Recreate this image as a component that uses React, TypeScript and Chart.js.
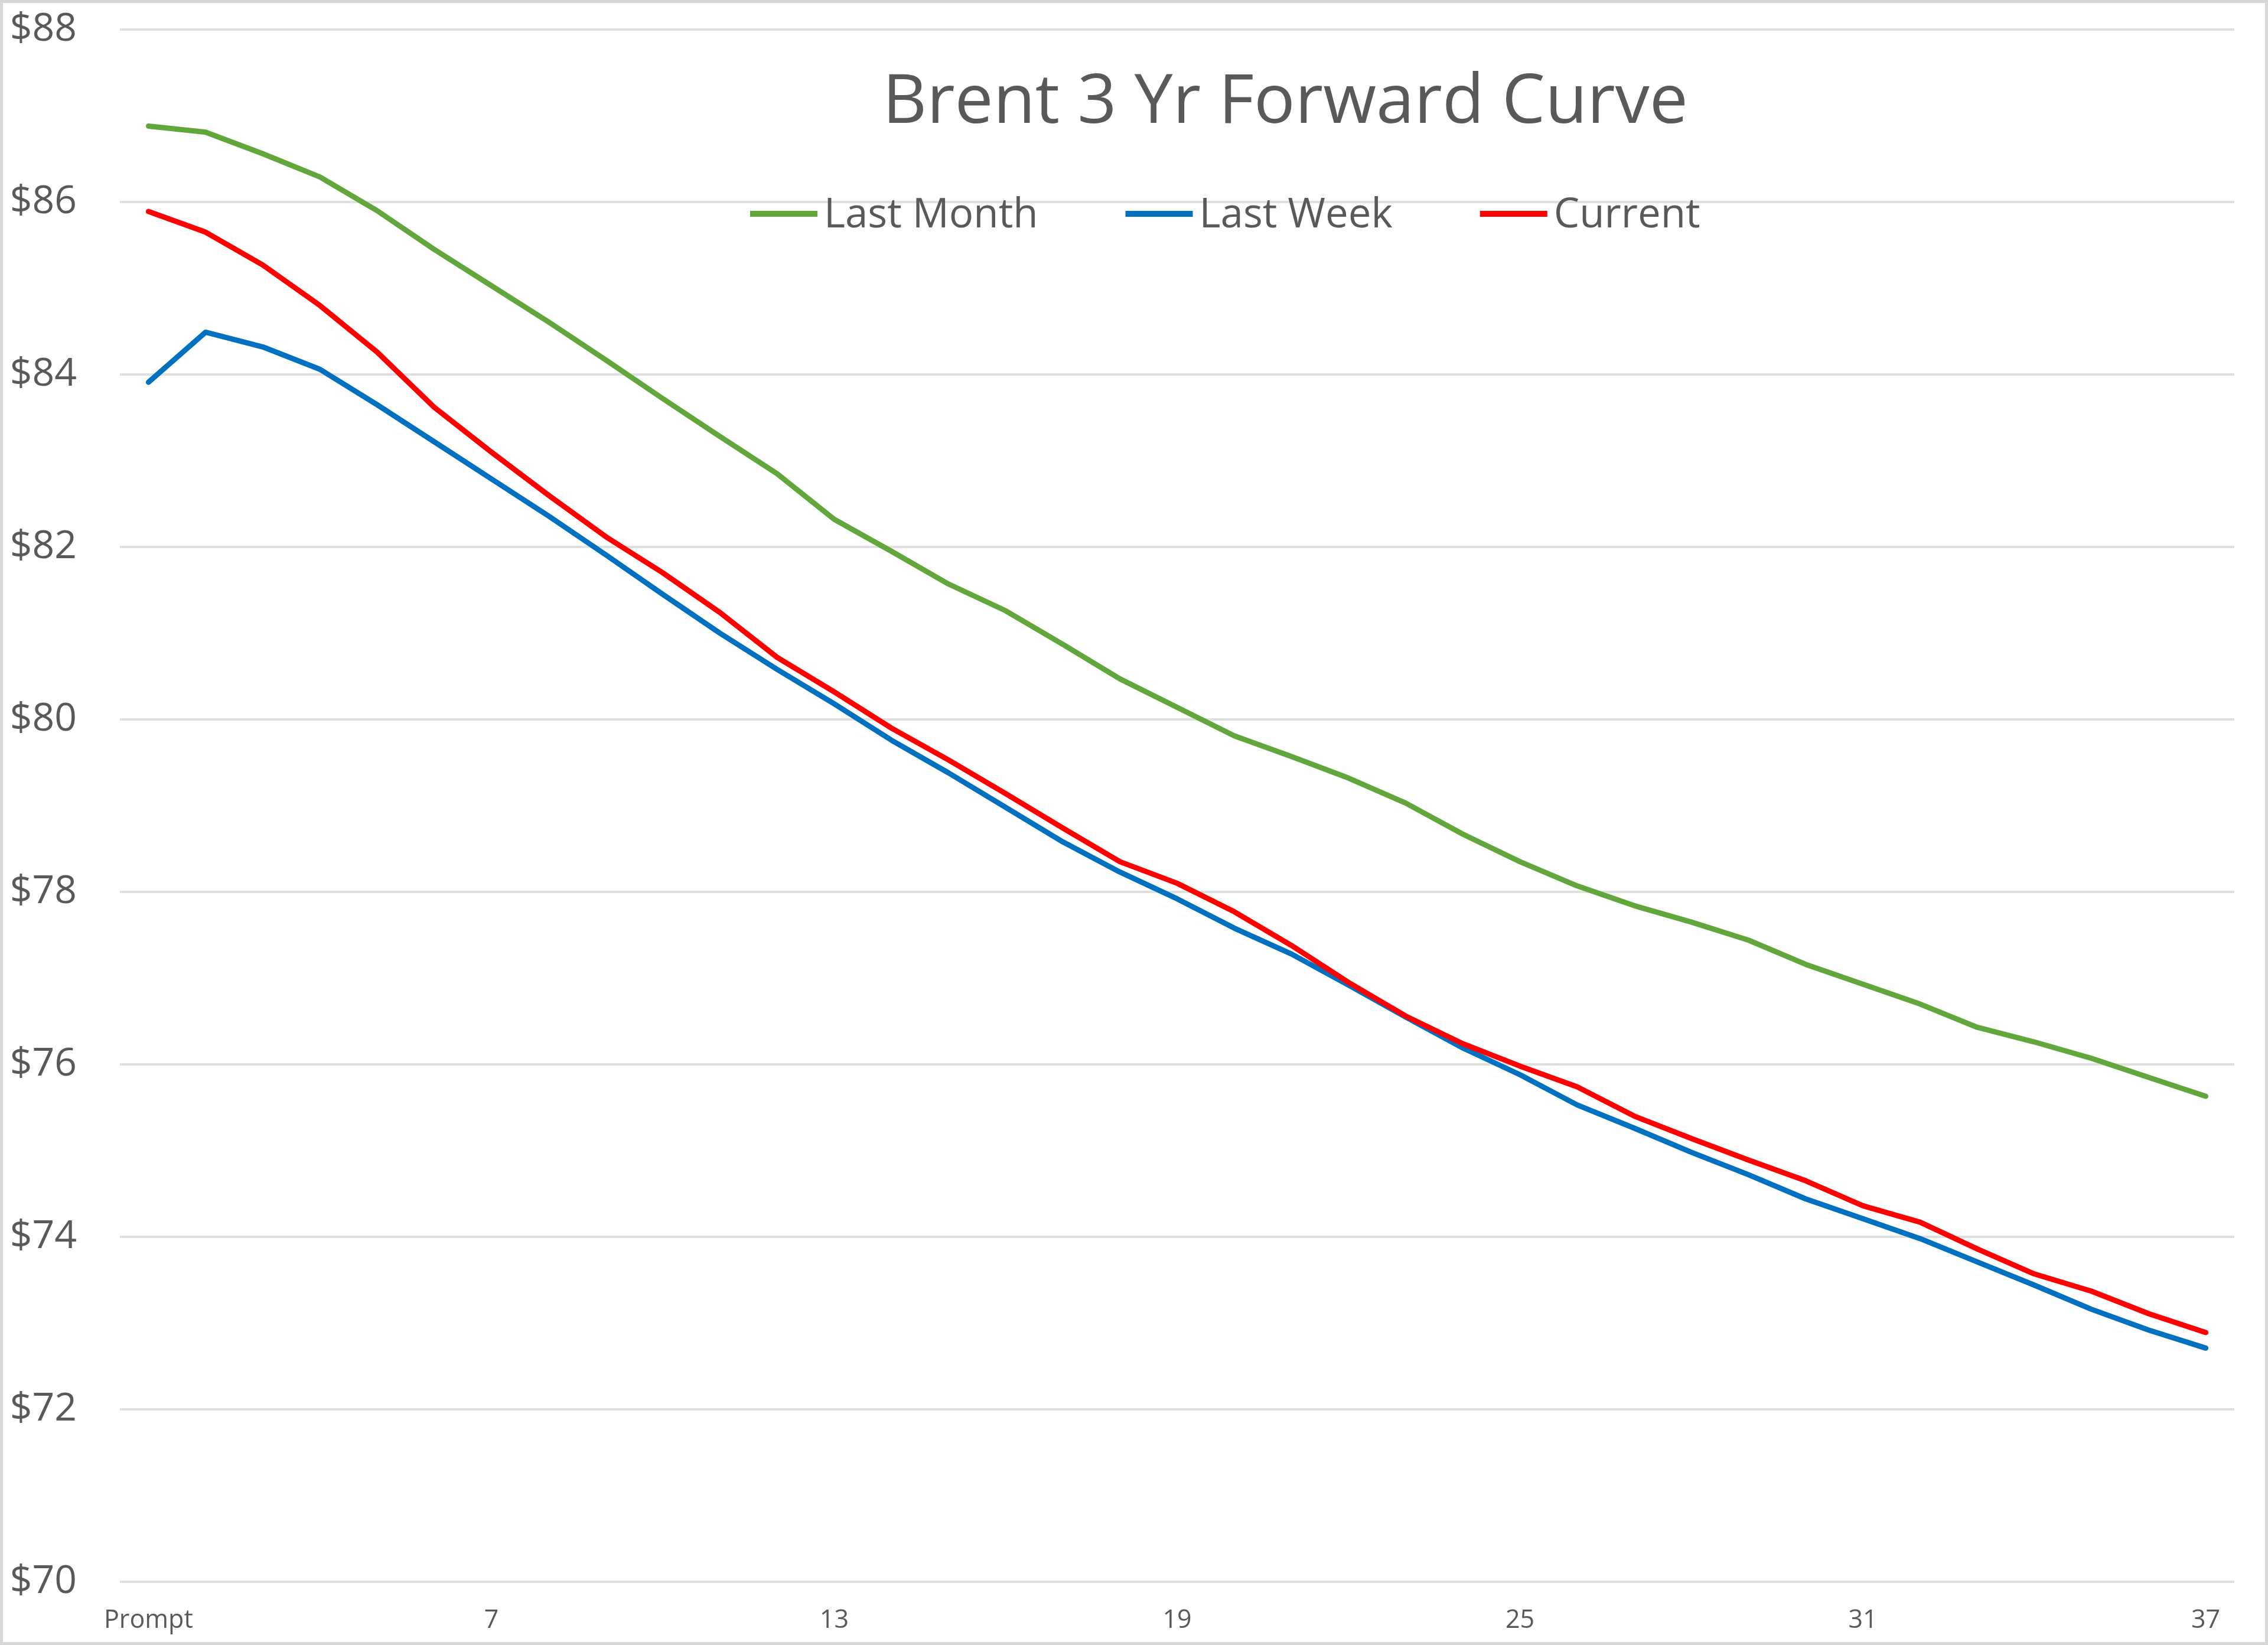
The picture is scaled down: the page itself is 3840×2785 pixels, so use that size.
import React, { useEffect, useRef } from 'react';
import { Chart, registerables } from 'chart.js';

Chart.register(...registerables);

const TITLE = 'Brent 3 Yr Forward Curve';

const categories = [
  'Prompt', '2', '3', '4', '5', '6', '7', '8', '9', '10', '11', '12', '13',
  '14', '15', '16', '17', '18', '19', '20', '21', '22', '23', '24', '25',
  '26', '27', '28', '29', '30', '31', '32', '33', '34', '35', '36', '37',
];

const shownLabels = ['Prompt', '7', '13', '19', '25', '31', '37'];

const seriesNames = ['Last Month', 'Last Week', 'Current'];
const seriesColors = ['#62A73B', '#0070C0', '#FF0000'];

const lastMonth = [
  86.88, 86.81, 86.56, 86.29, 85.9, 85.45, 85.03, 84.61, 84.17, 83.72, 83.28, 82.85,
  82.32, 81.95, 81.57, 81.26, 80.87, 80.47, 80.14, 79.81, 79.57, 79.32, 79.03, 78.67,
  78.35, 78.07, 77.84, 77.65, 77.44, 77.16, 76.93, 76.7, 76.43, 76.26, 76.07, 75.85,
  75.63,
];

const lastWeek = [
  83.91, 84.49, 84.32, 84.06, 83.65, 83.22, 82.79, 82.36, 81.91, 81.45, 81.0, 80.58,
  80.18, 79.76, 79.38, 78.98, 78.58, 78.23, 77.92, 77.58, 77.28, 76.92, 76.55, 76.19,
  75.88, 75.53, 75.26, 74.98, 74.72, 74.44, 74.21, 73.98, 73.71, 73.44, 73.16, 72.92,
  72.71,
];

const current = [
  85.89, 85.65, 85.27, 84.8, 84.26, 83.62, 83.1, 82.6, 82.12, 81.7, 81.24, 80.72,
  80.32, 79.9, 79.53, 79.14, 78.74, 78.35, 78.1, 77.77, 77.38, 76.95, 76.56, 76.24,
  75.98, 75.74, 75.4, 75.14, 74.89, 74.65, 74.36, 74.17, 73.86, 73.57, 73.37, 73.11,
  72.89,
];

const yMin = 70;
const yMax = 88;
const yStep = 2;

const FONT = '"Open Sans", "Noto Sans", "DejaVu Sans", sans-serif';
const TEXT = '#595959';

export default function App() {
  const ref = useRef<HTMLCanvasElement>(null);

  useEffect(() => {
    if (!ref.current) return;
    let alive = true;

    const overlay = {
      id: 'overlay',
      beforeDraw(c: any) {
        const ctx = c.ctx;
        ctx.save();
        ctx.fillStyle = '#ffffff';
        ctx.fillRect(0, 0, c.width, c.height);
        ctx.restore();
      },
      afterDraw(c: any) {
        const ctx = c.ctx;
        ctx.save();
        // title
        ctx.font = `116px ${FONT}`;
        ctx.fillStyle = TEXT;
        ctx.textAlign = 'center';
        ctx.textBaseline = 'alphabetic';
        ctx.fillText(TITLE, 2176, 208);
        // legend
        ctx.font = `69px ${FONT}`;
        ctx.textAlign = 'left';
        let x = 1270;
        const lineLen = 114;
        c.data.datasets.forEach((ds: any) => {
          ctx.strokeStyle = ds.borderColor;
          ctx.lineWidth = 10;
          ctx.lineCap = 'butt';
          ctx.beginPath();
          ctx.moveTo(x, 362);
          ctx.lineTo(x + lineLen, 362);
          ctx.stroke();
          const tx = x + lineLen + 11;
          ctx.fillStyle = TEXT;
          ctx.fillText(ds.label, tx, 385);
          x = tx + ctx.measureText(ds.label).width + 148;
        });
        // outer border
        ctx.strokeStyle = '#d6d6d6';
        ctx.lineWidth = 5;
        ctx.strokeRect(2.5, 2.5, c.width - 5, c.height - 5);
        ctx.restore();
      },
    };

    const series = [lastMonth, lastWeek, current];
    const drawOrder = [2, 1, 0];

    const chart = new Chart(ref.current, {
      type: 'line',
      data: {
        labels: categories,
        datasets: series.map((d, i) => ({
          label: seriesNames[i],
          data: d,
          borderColor: seriesColors[i],
          backgroundColor: seriesColors[i],
          borderWidth: 9,
          pointRadius: 0,
          pointHoverRadius: 0,
          tension: 0,
          fill: false,
          borderCapStyle: 'round',
          borderJoinStyle: 'round',
          order: drawOrder[i],
        })),
      },
      options: {
        responsive: false,
        maintainAspectRatio: false,
        animation: false,
        devicePixelRatio: 1,
        events: [],
        layout: { padding: { left: 0, right: 57, top: 50, bottom: 0 } },
        plugins: {
          legend: { display: false },
          title: { display: false },
          tooltip: { enabled: false },
        },
        scales: {
          x: {
            type: 'category',
            offset: true,
            grid: { display: false, drawTicks: false },
            border: { display: false },
            ticks: {
              autoSkip: false,
              maxRotation: 0,
              minRotation: 0,
              padding: 40,
              color: TEXT,
              font: { family: FONT, size: 43 },
              callback: (_v: any, i: number) => {
                const l = categories[i];
                return shownLabels.includes(l) ? l : '';
              },
            },
            afterFit: (s: any) => {
              s.height = 107;
              s.paddingLeft = 0;
              s.paddingRight = 0;
            },
          },
          y: {
            min: yMin,
            max: yMax,
            grid: { color: '#e0e0e0', lineWidth: 4, drawTicks: false },
            border: { display: false },
            ticks: {
              stepSize: yStep,
              padding: 73,
              color: TEXT,
              font: { family: FONT, size: 66 },
              callback: (v: any) => '$' + v,
            },
            afterFit: (s: any) => {
              s.width = 203;
              s.paddingTop = 0;
              s.paddingBottom = 0;
            },
          },
        },
      },
      plugins: [overlay],
    } as any);

    if ((document as any).fonts && (document as any).fonts.load) {
      (document as any).fonts.load(`69px "Open Sans"`).then(() => {
        if (alive) chart.update();
      }).catch(() => {});
    }

    return () => {
      alive = false;
      chart.destroy();
    };
  }, []);

  return (
    <div style={{ position: 'absolute', left: 0, top: 0, width: 3840, height: 2785 }}>
      <canvas ref={ref} width={3840} height={2785} style={{ display: 'block', width: 3840, height: 2785 }} />
    </div>
  );
}
